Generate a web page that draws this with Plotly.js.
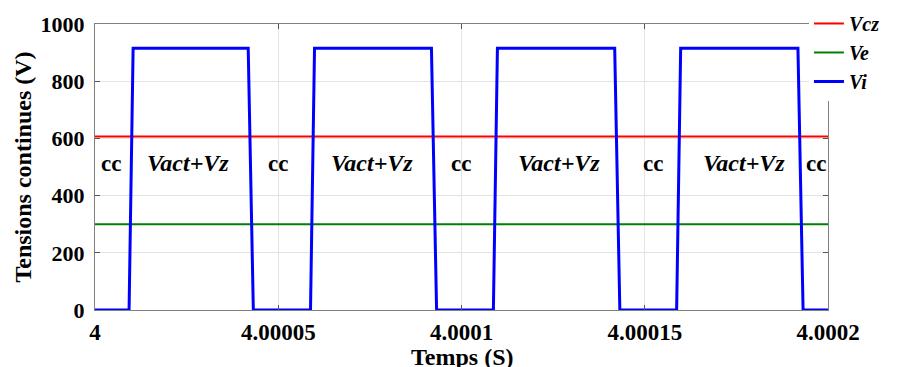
<!DOCTYPE html>
<html>
<head>
<meta charset="utf-8">
<script src="https://cdn.plot.ly/plotly-3.0.1.min.js"></script>
<style>html,body{margin:0;padding:0;background:#fff;}#chart{width:897px;height:367px;}</style>
</head>
<body>
<div id="chart"></div>
<script>
// Time breakpoints (s) and values (V)
const tLine = [4, 4.0002];
const vczValues = [607, 607];
const veValues = [300, 300];

const viTimes = [
  4, 4.0000093, 4.0000104, 4.0000418, 4.0000432,
  4.0000588, 4.0000599, 4.0000918, 4.0000932,
  4.0001087, 4.0001098, 4.0001418, 4.0001432,
  4.0001587, 4.0001598, 4.0001918, 4.0001932, 4.0002
];
const viValues = [
  0, 0, 915, 915, 0,
  0, 915, 915, 0,
  0, 915, 915, 0,
  0, 915, 915, 0, 0
];

const xTickVals = [4, 4.00005, 4.0001, 4.00015, 4.0002];
const xTickText = ['4', '4.00005', '4.0001', '4.00015', '4.0002'];
const yTickVals = [0, 200, 400, 600, 800, 1000];
const yTickText = ['0', '200', '400', '600', '800', '1000'];

const ccLabelX = [4.0000045, 4.0000499, 4.0000999, 4.0001523, 4.0001968];
const actLabelX = [4.0000254, 4.0000757, 4.0001266, 4.0001771];
const labelY = 514;

const serif = 'Liberation Serif';

const traces = [
  {x: tLine, y: vczValues, name: '<b><i>Vcz</i></b>', mode: 'lines', line: {color: '#ff0000', width: 2}},
  {x: tLine, y: veValues, name: '<b><i>Ve</i></b>', mode: 'lines', line: {color: '#008000', width: 2}},
  {x: viTimes, y: viValues, name: '<b><i>Vi</i></b>', mode: 'lines', line: {color: '#0000ff', width: 3}}
];

const annotations = [];
ccLabelX.forEach(x => annotations.push({
  x: x, y: labelY, xref: 'x', yref: 'y', text: '<b>cc</b>', showarrow: false,
  font: {family: serif, size: 23, color: '#000'}
}));
actLabelX.forEach(x => annotations.push({
  x: x, y: labelY, xref: 'x', yref: 'y', text: '<b><i>Vact+Vz</i></b>', showarrow: false,
  font: {family: serif, size: 24, color: '#000'}
}));
// x-axis title, placed as in the reference (partly cut by the bottom edge)
annotations.push({
  x: 0.5, y: -0.165, xref: 'paper', yref: 'paper', xanchor: 'center', yanchor: 'middle',
  text: '<b>Temps (S)</b>', showarrow: false,
  font: {family: serif, size: 24, color: '#000'}
});

const layout = {
  width: 897, height: 367,
  margin: {l: 95, r: 69, t: 24, b: 57, autoexpand: false},
  paper_bgcolor: '#fff', plot_bgcolor: '#fff',
  showlegend: true,
  font: {family: serif, color: '#000'},
  legend: {
    x: 0.974, y: 1.07, xanchor: 'left', yanchor: 'top',
    bgcolor: '#fff', borderwidth: 0,
    font: {family: serif, size: 20, color: '#000'},
    tracegroupgap: 0
  },
  xaxis: {
    range: [4, 4.0002],
    tickmode: 'array', tickvals: xTickVals, ticktext: xTickText.map(s => '<b>' + s + '</b>'),
    tickfont: {family: serif, size: 23, color: '#000'},
    ticks: 'inside', ticklen: 5, tickcolor: '#555', mirror: 'ticks',
    showline: true, linecolor: '#808080', linewidth: 1,
    showgrid: true, gridcolor: '#e3e3e3', gridwidth: 1,
    zeroline: false, ticklabelstandoff: 1
  },
  yaxis: {
    range: [0, 1000],
    tickmode: 'array', tickvals: yTickVals, ticktext: yTickText.map(s => '<b>' + s + '</b>'),
    tickfont: {family: serif, size: 22, color: '#000'},
    ticks: 'inside', ticklen: 5, tickcolor: '#555', mirror: 'ticks',
    showline: true, linecolor: '#808080', linewidth: 1,
    showgrid: true, gridcolor: '#e3e3e3', gridwidth: 1,
    zeroline: false, ticklabelstandoff: 5,
    title: {text: '<b>Tensions continues (V)</b>', font: {family: serif, size: 24, color: '#000'}, standoff: 2}
  },
  annotations: annotations
};

Plotly.newPlot('chart', traces, layout, {displayModeBar: false, staticPlot: true});
</script>
</body>
</html>
